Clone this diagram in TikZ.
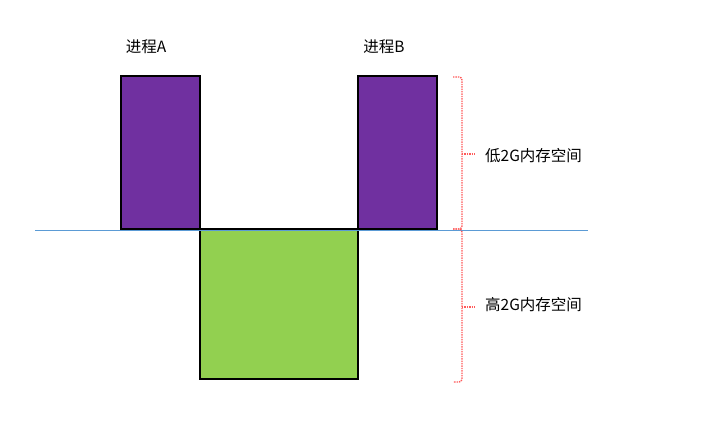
\documentclass[tikz,border=0pt]{standalone}
\usepackage{fontspec}
\newfontfamily\cjk{Noto Sans CJK SC}
\definecolor{procpurple}{HTML}{7030A0}
\definecolor{memgreen}{HTML}{92D050}
\definecolor{splitblue}{HTML}{5B9BD5}
\definecolor{bracered}{HTML}{FF5A5A}
\tikzset{
  procbox/.style={draw=black, line width=2pt, fill=procpurple},
  membox/.style={draw=black, line width=2pt, fill=memgreen},
  lbl/.style={font=\cjk\fontsize{15.5}{17}\selectfont, inner sep=0pt},
  memlbl/.style={font=\cjk\fontsize{15.5}{17}\selectfont, inner sep=0pt, anchor=west},
  rangebrace/.style={draw=bracered, line width=1.4pt, densely dotted, rounded corners=3pt}
}
\begin{document}
\begin{tikzpicture}[x=1pt,y=-1pt]
\useasboundingbox (0,0) rectangle (723,426);
\fill[white] (0,0) rectangle (723,426);
\draw[procbox] (121,76) rectangle (200,229);
\draw[procbox] (358,76) rectangle (437,229);
\draw[membox] (200,229) rectangle (358,379);
\draw[splitblue, line width=1pt] (35,230) coordinate (ls) -- (588,230) coordinate (le);
\node[lbl] (pa) at (146,47) {进程A};
\node[lbl] (pb) at (384,47) {进程B};
% brace for low 2G
\coordinate (b1t) at (453,77);
\coordinate (b1m) at (462,154);
\coordinate (b1tip) at (475,154);
\coordinate (b1b) at (453,229);
\draw[rangebrace] (b1t) -- (462,77) -- (462,229) -- (b1b);
\draw[rangebrace, rounded corners=0pt] (b1m) -- (b1tip);
% brace for high 2G
\coordinate (b2t) at (453,229);
\coordinate (b2m) at (462,307);
\coordinate (b2tip) at (475,307);
\coordinate (b2b) at (453,382);
\draw[rangebrace] (b2t) -- (462,229) -- (462,382) -- (b2b);
\draw[rangebrace, rounded corners=0pt] (b2m) -- (b2tip);
\node[memlbl] (low) at (485,156) {低2G内存空间};
\node[memlbl] (high) at (485,305) {高2G内存空间};
\end{tikzpicture}
\end{document}
